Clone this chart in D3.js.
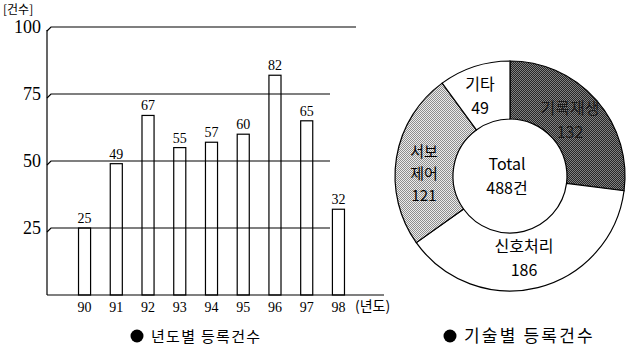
<!DOCTYPE html>
<html>
<head>
<meta charset="utf-8">
<script src="https://cdn.jsdelivr.net/npm/d3@7"></script>
<style>
  html, body { margin: 0; padding: 0; background: #fff; }
  svg { display: block; }
</style>
</head>
<body>
<svg id="chart" width="634" height="349"></svg>
<script>
// Yearly registrations (bar chart)
const years = ["90", "91", "92", "93", "94", "95", "96", "97", "98"];
const yearCounts = [25, 49, 67, 55, 57, 60, 82, 65, 32];
const yTicks = [25, 50, 75, 100];

// Registrations by technology (donut)
const techNames = ["기록재생", "신호처리", "서보제어", "기타"];
const techCounts = [132, 186, 121, 49];
const techLabels = [["기록재생", "132"], ["신호처리", "186"], ["서보", "제어", "121"], ["기타", "49"]];
const techFills = ["url(#dotDark)", "#fff", "url(#dotLight)", "#fff"];

const svg = d3.select("#chart");
const serif = "'Liberation Serif', 'Times New Roman', serif";
const sans = "'Noto Sans CJK KR', 'Noto Sans', sans-serif";

// halftone-like fills
const defs = svg.append("defs");
function dotPattern(id, base, dot) {
  const p = defs.append("pattern").attr("id", id)
    .attr("width", 2).attr("height", 2).attr("patternUnits", "userSpaceOnUse");
  p.append("rect").attr("width", 2).attr("height", 2).attr("fill", base);
  p.append("rect").attr("width", 1).attr("height", 1).attr("fill", dot);
  p.append("rect").attr("x", 1).attr("y", 1).attr("width", 1).attr("height", 1).attr("fill", dot);
}
dotPattern("dotDark", "#262626", "#808080");
dotPattern("dotLight", "#ececec", "#8e8e8e");

// ---------- bar chart ----------
const axisX = 47, baseY = 295;
const x = d3.scaleBand().domain(years).range([69, 354]).paddingInner(0.62).paddingOuter(0.3);
const y = d3.scaleLinear().domain([0, 100]).range([baseY, 27]);

const g = svg.append("g");

// value axis line
g.append("line").attr("x1", axisX).attr("x2", axisX).attr("y1", y(100) + 3).attr("y2", baseY)
  .attr("stroke", "#000").attr("stroke-width", 1.2);

// baseline
g.append("line").attr("x1", axisX).attr("x2", 384).attr("y1", baseY).attr("y2", baseY)
  .attr("stroke", "#000").attr("stroke-width", 1.2);

// bars (outline only)
g.selectAll("rect.bar").data(yearCounts).join("rect").attr("class", "bar")
  .attr("x", (d, i) => x(years[i]))
  .attr("y", d => y(d))
  .attr("width", x.bandwidth())
  .attr("height", d => baseY - y(d))
  .attr("fill", "none").attr("stroke", "#000").attr("stroke-width", 1.2);

// grid lines with the small hook at the axis
const gridEnd = { 25: 330, 50: 330, 75: 330, 100: 356 };
g.selectAll("path.grid").data(yTicks).join("path").attr("class", "grid")
  .attr("d", d => `M${axisX},${y(d) + 4}L${axisX + 4},${y(d)}L${gridEnd[d]},${y(d)}`)
  .attr("fill", "none").attr("stroke", "#000").attr("stroke-width", 1.2);

// tick labels
g.selectAll("text.ytick").data(yTicks).join("text").attr("class", "ytick")
  .attr("x", 41).attr("y", d => y(d) + 6)
  .attr("text-anchor", "end").attr("font-family", serif).attr("font-size", 18)
  .text(d => d);

g.append("text").attr("x", 3).attr("y", 14)
  .attr("font-family", sans).attr("font-size", 12).text("[건수]");

// value labels
g.selectAll("text.val").data(yearCounts).join("text").attr("class", "val")
  .attr("x", (d, i) => x(years[i]) + x.bandwidth() / 2)
  .attr("y", d => y(d) - 5)
  .attr("text-anchor", "middle").attr("font-family", serif).attr("font-size", 14)
  .text(d => d);

// category labels
g.selectAll("text.xtick").data(years).join("text").attr("class", "xtick")
  .attr("x", d => x(d) + x.bandwidth() / 2).attr("y", 312)
  .attr("text-anchor", "middle").attr("font-family", serif).attr("font-size", 14)
  .text(d => d);

g.append("text").attr("x", 355).attr("y", 311)
  .attr("font-family", sans).attr("font-size", 14).text("(년도)");

// captions
function caption(cx, cy, label, size, spacing) {
  svg.append("circle").attr("cx", cx).attr("cy", cy - 6).attr("r", 6.5).attr("fill", "#000");
  svg.append("text").attr("x", cx + 14).attr("y", cy)
    .attr("font-family", sans).attr("font-size", size)
    .attr("letter-spacing", spacing).text(label);
}
caption(137, 342, "년도별 등록건수", 15, 1.3);
caption(450, 342, "기술별 등록건수", 17, 2.2);

// ---------- donut ----------
const cx = 510, cy = 176;
const pie = d3.pie().sort(null).value(d => d).startAngle(0).endAngle(2 * Math.PI);
const arcs = pie(techCounts);
const arc = d3.arc().innerRadius(57).outerRadius(115);
const dg = svg.append("g").attr("transform", `translate(${cx},${cy})`);

dg.selectAll("path").data(arcs).join("path")
  .attr("d", arc)
  .attr("fill", (d, i) => techFills[i])
  .attr("stroke", "#000").attr("stroke-width", 1.2);

const labelPos = [[60, -56], [14, 82], [-86, -3], [-30, -80]];
const lineGap = [24, 24, 22, 24];
const labelSize = [16, 16, 15, 16];
techLabels.forEach((lines, i) => {
  const t = dg.append("text")
    .attr("text-anchor", "middle").attr("font-family", sans).attr("font-size", labelSize[i])
    .attr("fill", i === 0 ? "#1a1a1a" : "#000");
  const n = lines.length;
  lines.forEach((s, k) => {
    t.append("tspan").attr("x", labelPos[i][0])
      .attr("y", labelPos[i][1] + (k - (n - 1) / 2) * lineGap[i] + 6).text(s);
  });
});

const total = d3.sum(techCounts);
const ct = dg.append("text").attr("text-anchor", "middle").attr("font-family", sans).attr("font-size", 16);
ct.append("tspan").attr("x", -3).attr("y", -6).text("Total");
ct.append("tspan").attr("x", -3).attr("y", 18).text(total + "건");
</script>
</body>
</html>
